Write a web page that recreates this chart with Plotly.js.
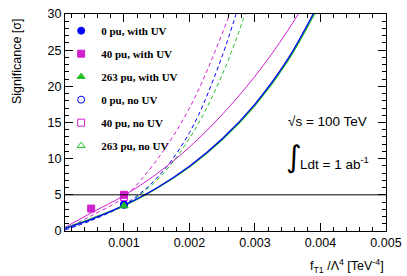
<!DOCTYPE html>
<html>
<head>
<meta charset="utf-8">
<script src="https://cdn.plot.ly/plotly-3.0.1.min.js"></script>
<style>html,body{margin:0;padding:0;background:#fff;}#chart{width:407px;height:276px;}</style>
</head>
<body>
<div id="chart"></div>
<script>
// ---- data ----
const xFine = [0.0001, 0.0005, 0.001, 0.0015, 0.002, 0.0025, 0.003, 0.0035, 0.004];
const pu0WithUV_curve   = [0.35, 1.6, 3.55, 5.95, 8.95, 12.75, 17.55, 23.75, 31.95];
const pu263WithUV_curve = [0.4, 1.7, 3.5, 5.9, 8.85, 12.6, 17.35, 23.5, 31.6];
const pu40WithUV_curve  = [0.5, 2.5, 4.9, 7.9, 11.6, 16.1, 21.4, 27.7, 35.2];

const xDash = [0.0001, 0.0005, 0.001, 0.0015, 0.002, 0.0025, 0.003];
const pu0NoUV_curve   = [0.15, 1.45, 3.6, 7.3, 13.6, 24.2, 39.0];
const pu40NoUV_curve  = [0.3, 2.1, 4.7, 9.8, 17.0, 27.3, 40.0];
const pu263NoUV_curve = [0.3, 1.6, 3.5, 7.0, 12.8, 21.6, 34.0];

const pu0WithUV_x = [0.001],  pu0WithUV_y = [3.7];
const pu40WithUV_x = [0.0005, 0.001], pu40WithUV_y = [3.1, 5.0];
const pu263WithUV_x = [0.001], pu263WithUV_y = [3.5];
const pu0NoUV_x = [0.001], pu0NoUV_y = [3.6];
const pu40NoUV_x = [0.001], pu40NoUV_y = [4.7];
const pu263NoUV_x = [0.001], pu263NoUV_y = [3.45];

const legendLabels = ['0 pu, with UV', '40 pu, with UV', '263 pu, with UV', '0 pu, no UV', '40 pu, no UV', '263 pu, no UV'];
const threshold = 5;

// ---- styles ----
const BLUE = '#0000ff', MAG = '#d020d0', GREEN = '#20c020';

function line(x, y, color, dash, w) {
  return {x: x, y: y, mode: 'lines', type: 'scatter', showlegend: false, hoverinfo: 'skip',
    line: {color: color, dash: dash, width: w, shape: 'spline', smoothing: 1}};
}
function pts(x, y, color, symbol, name, grp) {
  return {x: x, y: y, mode: 'markers', type: 'scatter', name: name, legendgroup: grp,
    marker: {color: color, symbol: symbol, size: 7, line: {color: color, width: 1}}};
}

const traces = [
  line(xDash, pu0NoUV_curve, BLUE, '4px,3px', 1),
  line(xDash, pu263NoUV_curve, GREEN, '4px,3px', 1),
  line(xDash, pu40NoUV_curve, MAG, '4px,3px', 1),
  line(xFine, pu40WithUV_curve, MAG, 'solid', 1),
  line(xFine, pu263WithUV_curve, GREEN, 'solid', 1.4),
  line(xFine, pu0WithUV_curve, BLUE, 'solid', 1.3),
  pts(pu0WithUV_x, pu0WithUV_y, BLUE, 'circle', legendLabels[0], 'a'),
  pts(pu40WithUV_x, pu40WithUV_y, MAG, 'square', legendLabels[1], 'b'),
  pts(pu263WithUV_x, pu263WithUV_y, GREEN, 'triangle-up', legendLabels[2], 'c'),
  pts(pu0NoUV_x, pu0NoUV_y, BLUE, 'circle-open', legendLabels[3], 'd'),
  pts(pu40NoUV_x, pu40NoUV_y, MAG, 'square-open', legendLabels[4], 'e'),
  pts(pu263NoUV_x, pu263NoUV_y, GREEN, 'triangle-up-open', legendLabels[5], 'f')
];

const axisFont = {family: 'Liberation Sans, Arial, sans-serif', size: 12.5, color: '#000'};
const layout = {
  width: 407, height: 276,
  margin: {l: 65, r: 21, t: 14, b: 45, pad: 0},
  paper_bgcolor: '#fff', plot_bgcolor: '#fff',
  font: axisFont,
  xaxis: {range: [0.0001, 0.005], tick0: 0, dtick: 0.001, tickformat: '.3f',
    showgrid: false, zeroline: false, showline: true, linecolor: '#000', linewidth: 1,
    mirror: 'allticks', ticks: 'inside', ticklen: 8, tickcolor: '#000', tickfont: axisFont,
    minor: {dtick: 0.0002, tick0: 0, ticks: 'inside', ticklen: 4, tickcolor: '#000', showgrid: false}},
  yaxis: {range: [0, 30], tick0: 0, dtick: 5,
    showgrid: false, zeroline: false, showline: true, linecolor: '#000', linewidth: 1,
    mirror: 'allticks', ticks: 'inside', ticklen: 8, tickcolor: '#000', tickfont: axisFont,
    minor: {dtick: 1, tick0: 0, ticks: 'inside', ticklen: 4, tickcolor: '#000', showgrid: false}},
  shapes: [{type: 'line', xref: 'paper', x0: 0, x1: 1, yref: 'y', y0: threshold, y1: threshold,
    line: {color: '#000', width: 1}}],
  showlegend: true,
  legend: {x: -0.012, y: 0.99, xanchor: 'left', yanchor: 'top', bgcolor: 'rgba(0,0,0,0)',
    tracegroupgap: 4, itemwidth: 30,
    font: {family: 'Liberation Serif, Times New Roman, serif', size: 11, weight: 'bold', color: '#000'}},
  annotations: [
    {xref: 'paper', yref: 'paper', x: -0.15, y: 0.99, xanchor: 'center', yanchor: 'top',
      textangle: -90, showarrow: false, text: 'Significance [σ]', font: {family: 'Liberation Sans, Arial, sans-serif', size: 12.5}},
    {xref: 'paper', yref: 'paper', x: 1.0, y: -0.11, xanchor: 'right', yanchor: 'top', showarrow: false,
      text: 'f<sub>T1</sub> /Λ<sup>4</sup> [TeV<sup>-4</sup>]', font: {family: 'Liberation Sans, Arial, sans-serif', size: 12.5}},
    {xref: 'paper', yref: 'paper', x: 0.69, y: 0.505, xanchor: 'left', yanchor: 'middle', showarrow: false,
      text: '√s = 100 TeV', font: {family: 'Liberation Sans, Arial, sans-serif', size: 13.5}},
    {xref: 'paper', yref: 'paper', x: 0.682, y: 0.345, xanchor: 'left', yanchor: 'middle', showarrow: false,
      text: '∫', font: {family: 'DejaVu Sans, sans-serif', size: 30}},
    {xref: 'paper', yref: 'paper', x: 0.727, y: 0.315, xanchor: 'left', yanchor: 'middle', showarrow: false,
      text: 'Ldt = 1 ab<sup>-1</sup>', font: {family: 'Liberation Sans, Arial, sans-serif', size: 13.5}}
  ]
};

Plotly.newPlot('chart', traces, layout, {staticPlot: true, displayModeBar: false});
</script>
</body>
</html>
